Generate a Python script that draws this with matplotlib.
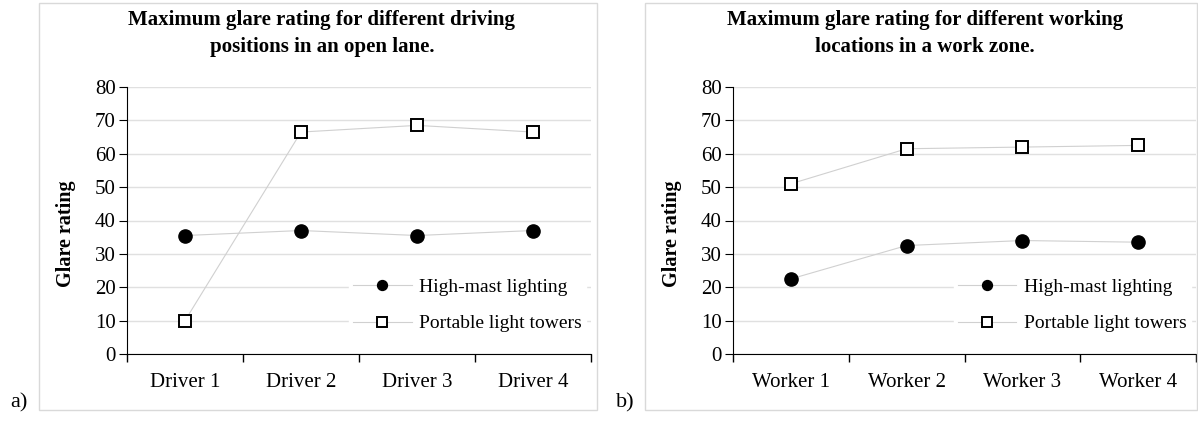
import numpy as np
import matplotlib.pyplot as plt
from matplotlib.patches import Rectangle

plt.rcParams['font.family'] = ['Liberation Serif', 'DejaVu Serif']

# données
drivers = ['Driver 1', 'Driver 2', 'Driver 3', 'Driver 4']
workers = ['Worker 1', 'Worker 2', 'Worker 3', 'Worker 4']
mast_open = [35.5, 37.0, 35.5, 37.0]
tower_open = [10.0, 66.5, 68.5, 66.5]
mast_work = [22.5, 32.5, 34.0, 33.5]
tower_work = [51.0, 61.5, 62.0, 62.5]
titles = ['Maximum glare rating for different driving\npositions in an open lane.',
          'Maximum glare rating for different working\nlocations in a work zone.']
letters = ['a)', 'b)']

W, H = 1198, 425
fig = plt.figure(figsize=(W / 100, H / 100), dpi=100)

# cadres, axes en pixels (gauche, haut, droite, bas)
boxes = [(39, 3, 597, 410), (645, 3, 1197, 410)]
axes_px = [(127, 87, 591, 354), (733, 87, 1196, 354)]
cats = [drivers, workers]
mast = [mast_open, mast_work]
tower = [tower_open, tower_work]

for k in range(2):
    bx0, by0, bx1, by1 = boxes[k]
    fig.patches.append(Rectangle((bx0 / W, 1 - by1 / H), (bx1 - bx0) / W, (by1 - by0) / H,
                                 transform=fig.transFigure, fill=False,
                                 edgecolor='#d9d9d9', lw=1))
    x0, y0, x1, y1 = axes_px[k]
    ax = fig.add_axes([x0 / W, 1 - y1 / H, (x1 - x0) / W, (y1 - y0) / H])
    x = np.arange(len(cats[k]))
    ax.plot(x, mast[k], color='#d0d0d0', lw=0.8, marker='o', ms=9.5,
            mfc='black', mec='black', label='High-mast lighting', zorder=3)
    ax.plot(x, tower[k], color='#d0d0d0', lw=0.8, marker='s', ms=9,
            mfc='white', mec='black', mew=1.4, label='Portable light towers', zorder=3)
    ax.set_xlim(-0.5, 3.5)
    ax.set_ylim(0, 80)
    ax.set_yticks(range(0, 81, 10))
    ax.set_xticks(x)
    ax.set_xticklabels(cats[k], fontsize=15)
    ax.set_xticks([-0.5, 0.5, 1.5, 2.5, 3.5], minor=True)
    ax.tick_params(axis='x', which='major', length=0, pad=14)
    ax.tick_params(axis='x', which='minor', length=6, direction='out', width=1)
    ax.tick_params(axis='y', length=6, direction='out', labelsize=15, pad=2)
    ax.grid(axis='y', color='#e0e0e0', lw=1)
    ax.set_axisbelow(True)
    for s in ['top', 'right']:
        ax.spines[s].set_visible(False)
    ax.set_ylabel('Glare rating', fontsize=14.5, fontweight='bold')
    ax.yaxis.set_label_coords(-0.11, 0.45)
    leg = ax.legend(loc='lower right', bbox_to_anchor=(1.01, 0.03), frameon=True,
                    fontsize=14, handlelength=3, markerscale=0.75, labelspacing=0.95,
                    borderpad=0.2, handletextpad=0.4)
    leg.get_frame().set_edgecolor('white')
    leg.get_frame().set_alpha(1)
    fig.text((bx0 + bx1) / 2 / W + 4 / W, 1 - 10 / H, titles[k], ha='center', va='top',
             fontsize=15, fontweight='bold', linespacing=1.45)
    fig.text((bx0 - 29) / W, 1 - 403 / H, letters[k], ha='left', va='center', fontsize=16)

fig.savefig('out.png', dpi=100)
